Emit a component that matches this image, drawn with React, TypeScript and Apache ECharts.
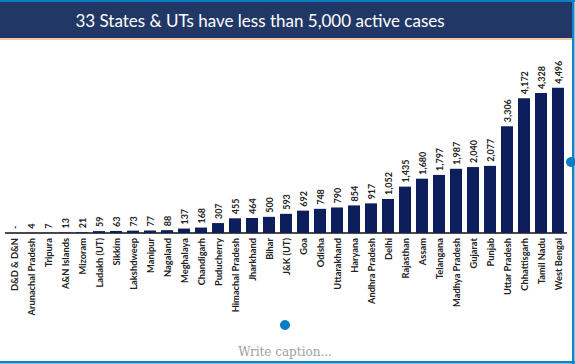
import React, { useEffect, useRef } from "react";
import * as echarts from "echarts";

const TITLE = "33 States & UTs have less than 5,000 active cases";
const CAPTION = "Write caption...";

const categories = [
  "D&D & D&N", "Arunachal Pradesh", "Tripura", "A&N Islands", "Mizoram",
  "Ladakh (UT)", "Sikkim", "Lakshdweep", "Manipur", "Nagaland", "Meghalaya",
  "Chandigarh", "Puducherry", "Himachal Pradesh", "Jharkhand", "Bihar",
  "J&K (UT)", "Goa", "Odisha", "Uttarakhand", "Haryana", "Andhra Pradesh",
  "Delhi", "Rajasthan", "Assam", "Telangana", "Madhya Pradesh", "Gujarat",
  "Punjab", "Uttar Pradesh", "Chhattisgarh", "Tamil Nadu", "West Bengal",
];

const activeCases = [
  0, 4, 7, 13, 21, 59, 63, 73, 77, 88, 137, 168, 307, 455, 464, 500, 593,
  692, 748, 790, 854, 917, 1052, 1435, 1680, 1797, 1987, 2040, 2077, 3306,
  4172, 4328, 4496,
];

export default function App() {
  const ref = useRef<HTMLDivElement>(null);

  useEffect(() => {
    document.body.style.margin = "0";
    if (!ref.current) return;
    const chart = echarts.init(ref.current, null, { renderer: "svg" });
    chart.setOption({
      animation: false,
      backgroundColor: "#ffffff",
      grid: { left: 5.5, right: 8.5, top: 52, height: 181, containLabel: false },
      xAxis: {
        type: "category",
        data: categories,
        axisLine: { lineStyle: { color: "#111111", width: 1.5 } },
        axisTick: { show: false },
        axisLabel: {
          interval: 0,
          rotate: 90,
          margin: 5,
          fontFamily: "Lato",
          fontWeight: "bold",
          fontSize: 9.3,
          color: "#222222",
        },
      },
      yAxis: {
        type: "value",
        min: 0,
        max: 5600,
        show: false,
        splitLine: { show: false },
      },
      series: [
        {
          type: "bar",
          data: activeCases,
          barWidth: 12,
          itemStyle: { color: "#0c1f5c" },
          label: {
            show: true,
            position: "top",
            rotate: 90,
            align: "left",
            verticalAlign: "middle",
            distance: 4,
            fontFamily: "Lato",
            fontWeight: "bold",
            fontSize: 9,
            color: "#222222",
            formatter: (p: any) =>
              p.value === 0 ? "-" : Number(p.value).toLocaleString("en-US"),
          },
        },
      ],
      graphic: [
        { type: "rect", shape: { x: 0, y: 0, width: 575, height: 2 }, style: { fill: "#0b7dc3" } },
        { type: "rect", shape: { x: 0, y: 2, width: 572, height: 36 }, style: { fill: "#213866" } },
        { type: "rect", shape: { x: 0, y: 38, width: 572, height: 2 }, style: { fill: "#f3c6a6" } },
        {
          type: "text",
          x: 260,
          y: 20,
          style: {
            text: TITLE,
            fill: "#ffffff",
            fontFamily: "Lato",
            fontSize: 17,
            align: "center",
            verticalAlign: "middle",
          },
        },
        { type: "rect", shape: { x: 572, y: 0, width: 2.5, height: 364 }, style: { fill: "#0b86c9" } },
        { type: "rect", shape: { x: 0, y: 361, width: 575, height: 2.5 }, style: { fill: "#0b86c9" } },
        { type: "circle", shape: { cx: 571, cy: 162, r: 5 }, style: { fill: "#0a7cc4" } },
        { type: "circle", shape: { cx: 285, cy: 325, r: 5 }, style: { fill: "#0a7cc4" } },
        {
          type: "text",
          x: 285,
          y: 352,
          style: {
            text: CAPTION,
            fill: "#a0a0a0",
            fontFamily: "DejaVu Serif",
            fontSize: 12,
            align: "center",
            verticalAlign: "middle",
          },
        },
      ],
    });
    return () => chart.dispose();
  }, []);

  return <div ref={ref} style={{ width: 575, height: 364 }} />;
}
